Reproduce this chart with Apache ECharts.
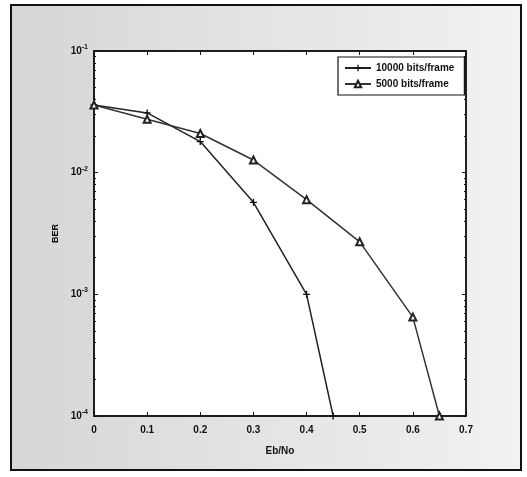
<!DOCTYPE html>
<html>
<head>
<meta charset="utf-8">
<script src="https://cdn.jsdelivr.net/npm/echarts@6/dist/echarts.min.js"></script>
<style>html,body{margin:0;padding:0;background:#fff}#c{width:527px;height:477px}</style>
</head>
<body>
<div id="c"></div>
<script>
// Data
var ebno10000 = [0, 0.1, 0.2, 0.3, 0.4, 0.45];
var ber10000 = [3.6e-2, 3.1e-2, 1.8e-2, 5.7e-3, 1.0e-3, 1.0e-4];
var ebno5000 = [0, 0.1, 0.2, 0.3, 0.4, 0.5, 0.6, 0.65];
var ber5000 = [3.6e-2, 2.75e-2, 2.1e-2, 1.27e-2, 6.0e-3, 2.7e-3, 6.5e-4, 1.0e-4];
var seriesNames = ['10000 bits/frame', '5000 bits/frame'];
var xTicks = [0, 0.1, 0.2, 0.3, 0.4, 0.5, 0.6, 0.7];

function pairs(xs, ys) { return xs.map(function (x, i) { return [x, ys[i]]; }); }

var FONT = 'Liberation Sans';
var chart = echarts.init(document.getElementById('c'));
var plus = 'path://M4,0h2v4h4v2h-4v4h-2v-4h-4v-2h4z';
var axisLine = { show: true, onZero: false, lineStyle: { color: '#111', width: 1.5 } };

chart.setOption({
  backgroundColor: '#ffffff',
  animation: false,
  textStyle: { fontFamily: FONT },
  graphic: [{
    type: 'rect', z: -10, shape: { x: 11, y: 5, width: 510, height: 465 },
    style: {
      fill: { type: 'linear', x: 0, y: 0, x2: 1, y2: 0,
        colorStops: [{ offset: 0, color: '#d6d6d6' }, { offset: 1, color: '#f2f2f2' }] },
      stroke: '#111', lineWidth: 2
    }, silent: true
  }],
  grid: { left: 94, top: 51, width: 372, height: 365, show: true, backgroundColor: '#ffffff', borderColor: '#111', borderWidth: 1.5 },
  legend: {
    left: 338, top: 57, orient: 'vertical', itemGap: 6, itemWidth: 26, itemHeight: 8,
    backgroundColor: '#fff', borderColor: '#111', borderWidth: 1.2, padding: [6, 10, 6, 6],
    textStyle: { fontSize: 10, fontWeight: 'bold', color: '#111', fontFamily: FONT },
    data: seriesNames
  },
  xAxis: [{
    type: 'value', min: 0, max: 0.7, interval: 0.1,
    name: 'Eb/No', nameLocation: 'middle', nameGap: 30,
    nameTextStyle: { fontSize: 10, fontWeight: 'bold', color: '#111' },
    axisLine: axisLine,
    axisTick: { inside: true, length: 4, lineStyle: { color: '#111' } },
    axisLabel: { fontSize: 10, fontWeight: 'bold', color: '#111', margin: 9,
      formatter: function (v) { return String(Math.round(v * 10) / 10); } },
    splitLine: { show: false }
  }, {
    type: 'value', min: 0, max: 0.7, interval: 0.1, position: 'top',
    axisLine: axisLine, axisTick: { inside: true, length: 4, lineStyle: { color: '#111' } },
    axisLabel: { show: false }, splitLine: { show: false }
  }],
  yAxis: [{
    type: 'log', logBase: 10, min: 1e-4, max: 1e-1,
    name: 'BER', nameLocation: 'middle', nameGap: 26,
    nameTextStyle: { fontSize: 9, fontWeight: 'bold', color: '#111' },
    axisLine: axisLine,
    axisTick: { inside: true, length: 4, lineStyle: { color: '#111' } },
    minorTick: { show: true, splitNumber: 9, length: 2, lineStyle: { color: '#111' } },
    axisLabel: {
      color: '#111', margin: 6,
      formatter: function (v) { return '{b|10}{s|' + Math.round(Math.log10(v)) + '}'; },
      rich: { b: { fontSize: 10, fontWeight: 'bold', color: '#111' }, s: { fontSize: 7, fontWeight: 'bold', color: '#111', verticalAlign: 'bottom', padding: [0, 0, 8, 0] } }
    },
    splitLine: { show: false }
  }, {
    type: 'log', logBase: 10, min: 1e-4, max: 1e-1, position: 'right',
    axisLine: axisLine,
    axisTick: { inside: true, length: 4, lineStyle: { color: '#111' } },
    minorTick: { show: true, splitNumber: 9, length: 2, lineStyle: { color: '#111' } },
    axisLabel: { show: false }, splitLine: { show: false }
  }],
  series: [{
    name: seriesNames[0], type: 'line', data: pairs(ebno10000, ber10000),
    symbol: plus, symbolSize: 7, itemStyle: { color: '#111' },
    lineStyle: { color: '#222', width: 1.5 }
  }, {
    name: seriesNames[1], type: 'line', data: pairs(ebno5000, ber5000),
    symbol: 'emptyTriangle', symbolSize: 7, itemStyle: { color: '#222', borderWidth: 1.3 },
    lineStyle: { color: '#333', width: 1.5 }
  }]
});
</script>
</body>
</html>
